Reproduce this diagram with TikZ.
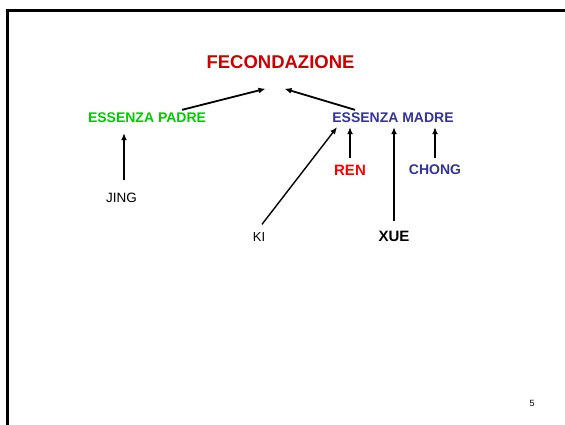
\documentclass[tikz,border=0pt]{standalone}
\usepackage{fontspec}
\setmainfont{Liberation Sans}
\usepackage{xcolor}
\usetikzlibrary{arrows.meta}

\definecolor{rossoscuro}{HTML}{CC0000}
\definecolor{verde}{HTML}{00CC00}
\definecolor{blu}{HTML}{333399}
\definecolor{rosso}{HTML}{FF0000}

\begin{document}
\begin{tikzpicture}[x=1pt, y=-1pt, every node/.style={inner sep=0pt}]
    \useasboundingbox (0,0) rectangle (565,424);

    % Cornice
    \draw[line width=2.5pt] (7.5,440) -- (7.5,10.5) -- (580,10.5);

    % Titolo
    \node (fec) at (280.5,62) {\fontsize{18.5}{20}\selectfont\bfseries\color{rossoscuro}FECONDAZIONE};

    % Le due essenze
    \node (padre) at (147,118) {\fontsize{14}{16}\selectfont\bfseries\color{verde}ESSENZA PADRE};
    \node (madre) at (393,118) {\fontsize{14}{16}\selectfont\bfseries\color{blu}ESSENZA MADRE};

    % Le sorgenti
    \node (jing) at (121.5,198) {\fontsize{13.5}{15}\selectfont JING};
    \node (ki) at (259,237) {\fontsize{13}{15}\selectfont KI};
    \node (ren) at (350,170) {\fontsize{15}{17}\selectfont\bfseries\color{rosso}REN};
    \node (chong) at (435,170) {\fontsize{14}{16}\selectfont\bfseries\color{blu}CHONG};
    \node (xue) at (394,236) {\fontsize{15}{17}\selectfont\bfseries XUE};

    % Numero pagina
    \node (pag) at (532,403) {\fontsize{9}{10}\selectfont 5};

    % Le frecce
    \begin{scope}[every path/.style={line width=1.8pt, -{Latex[length=7pt,width=6pt]}}]
    \draw ([xshift=35pt,yshift=3pt]padre.north) -- ([xshift=-15pt,yshift=-20pt]fec.south);
    \draw ([xshift=-38pt,yshift=3pt]madre.north) -- ([xshift=4pt,yshift=-20pt]fec.south);

    \draw ([xshift=2.5pt,yshift=13pt]jing.north) -- ([xshift=-23pt,yshift=-10pt]padre.south);

    \draw[line width=1.4pt] ([xshift=3pt,yshift=8pt]ki.north) -- ([xshift=-56pt,yshift=-4pt]madre.south);
    \draw ([yshift=7pt]ren.north) -- ([xshift=-43pt,yshift=-4pt]madre.south);
    \draw ([yshift=10pt]xue.north) -- ([xshift=1pt,yshift=-4pt]madre.south);
    \draw ([yshift=7pt]chong.north) -- ([xshift=42pt,yshift=-4pt]madre.south);
    \end{scope}

\end{tikzpicture}
\end{document}
